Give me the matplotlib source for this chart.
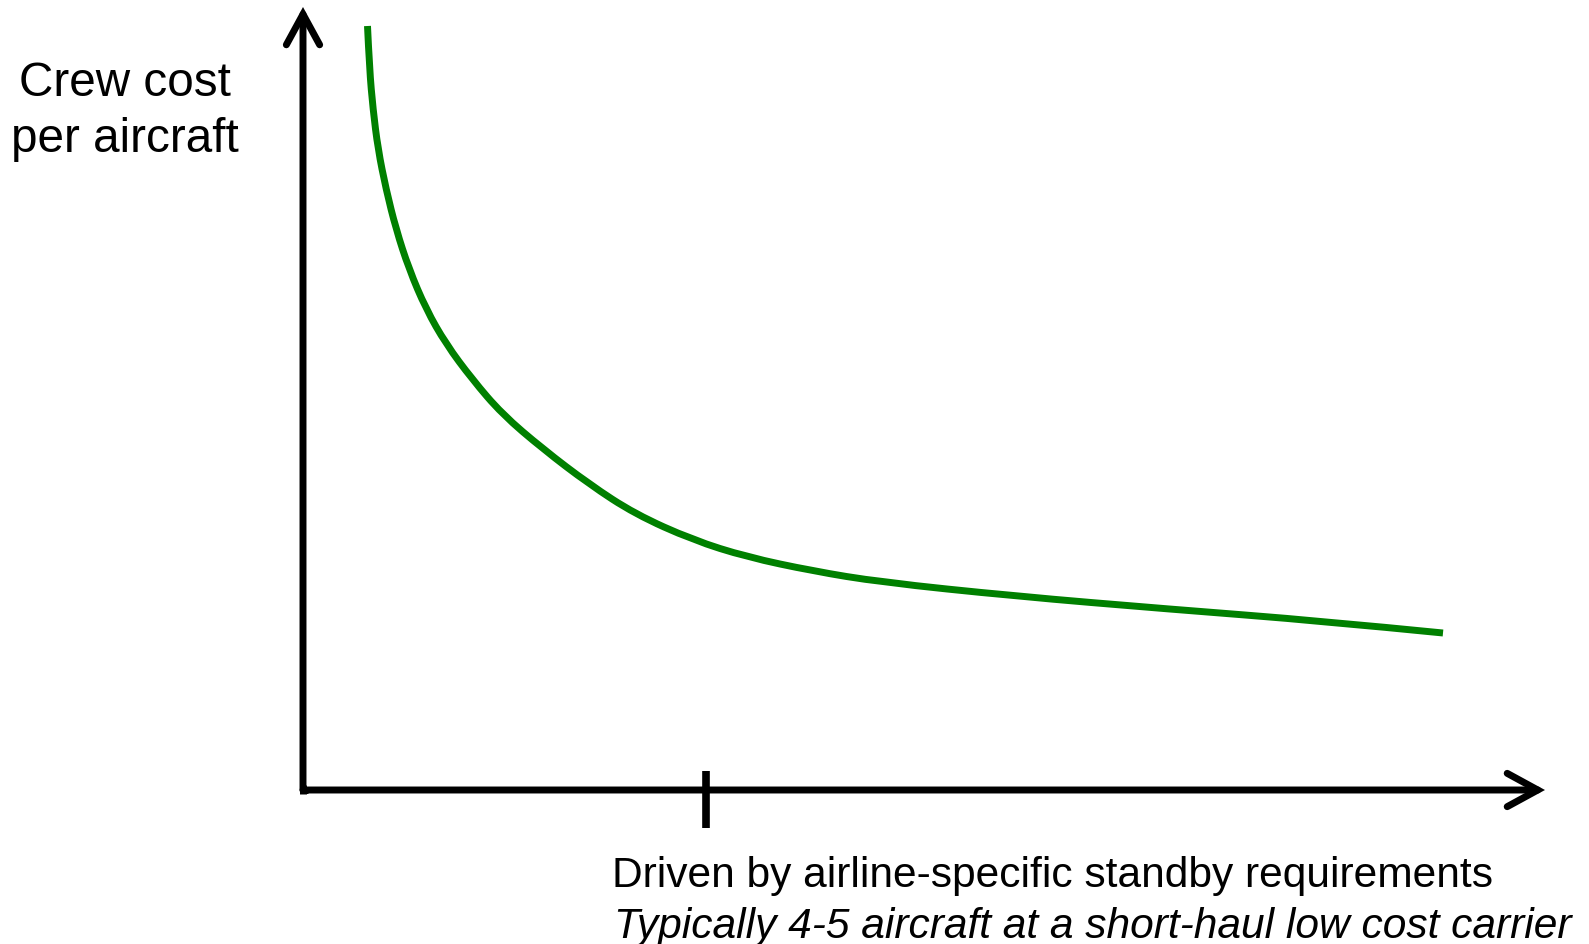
import matplotlib
matplotlib.use("Agg")
import matplotlib.pyplot as plt
from matplotlib.path import Path
from matplotlib.patches import PathPatch

plt.rcParams['font.family'] = ['Liberation Sans', 'DejaVu Sans']

# --- Data (schematic units, origin at the axes corner) ---
fleet_size = [6.45, 6.65, 7.0, 7.5, 8.3, 9.3, 10.6, 12.3, 14.3, 16.9, 19.9,
              24.0, 28.6, 33.2, 39.0, 44.4, 51.0, 57.7, 71.1, 86.5, 101.9,
              114.0]
crew_cost = [76.4, 72.1, 68.1, 64.1, 60.1, 56.1, 52.1, 48.1, 44.6, 41.1, 37.6,
             34.1, 30.6, 27.6, 25.0, 23.3, 21.9, 20.8, 19.4, 18.1, 16.9,
             15.7]

y_label = ["Crew cost", "per aircraft"]
note_lines = ["Driven by airline-specific standby requirements",
              "Typically 4-5 aircraft at a short-haul low cost carrier"]
tick_x = 40.3          # position of the marked fleet size
x_end, y_end = 124.2, 78.3

# --- Figure ---
fig = plt.figure(figsize=(15.89, 9.45), dpi=100)
ax = fig.add_axes([0, 0, 1, 1])
ax.set_xlim(-30.3, 128.6)
ax.set_ylim(-15.4, 79.1)
ax.axis("off")

# axes arrows
arrow_style = "->,head_length=2.2,head_width=1.2"
for end in [(x_end, 0), (0, y_end)]:
    ax.annotate("", xy=end, xytext=(0, 0),
                arrowprops=dict(arrowstyle=arrow_style, lw=5, color="black",
                                mutation_scale=10, shrinkA=0, shrinkB=0,
                                capstyle="round", joinstyle="miter"))
# corner so the two lines meet cleanly
ax.plot([0, 0], [-0.35, 0.5], color="black", lw=5, solid_capstyle="butt")
ax.plot([-0.35, 0.5], [0, 0], color="black", lw=5, solid_capstyle="butt")

# tick on x axis
ax.plot([tick_x, tick_x], [1.9, -3.8], color="black", lw=5.5,
        solid_capstyle="butt")

# curve, drawn as a smooth quadratic path through the read points
pts = list(zip(fleet_size, crew_cost))
verts = [pts[0]]
codes = [Path.MOVETO]
for i in range(1, len(pts) - 1):
    mid = ((pts[i][0] + pts[i + 1][0]) / 2, (pts[i][1] + pts[i + 1][1]) / 2)
    if i == len(pts) - 2:
        mid = pts[-1]
    verts += [pts[i], mid]
    codes += [Path.CURVE3, Path.CURVE3]
curve = PathPatch(Path(verts, codes), facecolor="none", edgecolor="#008000",
                  lw=5, capstyle="butt", joinstyle="round")
ax.add_patch(curve)

# labels
ax.text(-17.85, 69.5, y_label[0], ha="center", va="baseline", fontsize=34.3)
ax.text(-17.85, 63.9, y_label[1], ha="center", va="baseline", fontsize=34.3)

ax.text(30.9, -9.6, note_lines[0], ha="left", va="baseline", fontsize=30.6)
ax.text(31.1, -14.7, note_lines[1], ha="left", va="baseline", fontsize=30.6,
        style="italic")

fig.savefig("out.png", dpi=100)
